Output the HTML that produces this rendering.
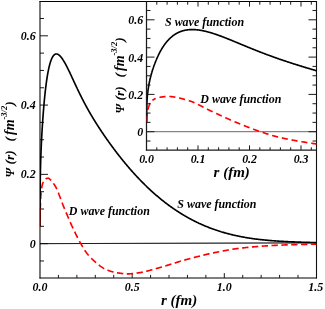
<!DOCTYPE html>
<html><head><meta charset="utf-8"><title>wave functions</title>
<style>
html,body{margin:0;padding:0;background:#fff;overflow:hidden;}
svg{display:block;will-change:transform;}
text{font-family:"Liberation Serif",serif;font-weight:bold;font-style:italic;fill:#000;}
.tk{font-size:13px;}
.lb{font-size:11.5px;}
</style></head><body>
<svg width="325" height="309" viewBox="0 0 325 309">
<rect width="325" height="309" fill="#fff"/>
<defs>
<clipPath id="cm"><rect x="40.0" y="1.5" width="276.5" height="276.4"/></clipPath>
<clipPath id="ci"><rect x="146.5" y="1.5" width="170.0" height="148.5"/></clipPath>
</defs>
<g clip-path="url(#cm)">
<line x1="40.0" y1="243.65" x2="316.5" y2="242.85" stroke="#000" stroke-width="0.65"/>
</g>
<path d="M40.0,260.97h4 M40.0,243.65h8 M40.0,226.33h4 M40.0,209.01h4 M40.0,191.69h4 M40.0,174.37h8 M40.0,157.05h4 M40.0,139.73h4 M40.0,122.41h4 M40.0,105.09h8 M40.0,87.77h4 M40.0,70.45h4 M40.0,53.13h4 M40.0,35.81h8 M40.0,18.49h4 M58.43,277.9v-3 M76.86,277.9v-3 M95.29,277.9v-3 M113.72,277.9v-3 M132.15,277.9v-4.8 M150.58,277.9v-3 M169.01,277.9v-3 M187.44,277.9v-3 M205.87,277.9v-3 M224.30,277.9v-4.8 M242.73,277.9v-3 M261.16,277.9v-3 M279.59,277.9v-3 M298.02,277.9v-3" stroke="#1a1a1a" stroke-width="1" fill="none"/>
<path d="M40.0,1.0V278.4" stroke="#000" stroke-width="1.05" fill="none"/>
<path d="M39.5,277.9H317.0" stroke="#000" stroke-width="1.05" fill="none"/>
<path d="M39.5,1.5H317.0" stroke="#000" stroke-width="1.1" fill="none"/>
<path d="M316.5,1.0V278.4" stroke="#111" stroke-width="1.1" fill="none"/>
<g clip-path="url(#cm)">
<line x1="40.0" y1="243.65" x2="316.5" y2="242.85" stroke="#000" stroke-width="0.65"/>
<path d="M40.02,226.33 L40.02,226.31 L40.02,225.75 L40.02,225.20 L40.02,224.66 L40.02,224.44 M40.05,220.62 L40.05,220.59 L40.05,220.11 L40.05,219.65 L40.06,219.19 L40.06,218.75 L40.07,218.30 L40.07,217.87 L40.07,217.44 L40.08,217.02 L40.08,216.60 L40.09,216.19 L40.10,215.79 L40.10,215.39 L40.11,215.00 L40.11,214.61 L40.12,214.22 L40.13,213.84 L40.13,213.70 M40.21,209.88 L40.22,209.56 L40.23,209.22 L40.24,208.89 L40.25,208.55 L40.26,208.21 L40.27,207.88 L40.29,207.54 L40.30,207.21 L40.31,206.88 L40.32,206.54 L40.33,206.21 L40.35,205.88 L40.36,205.54 L40.37,205.21 L40.39,204.87 L40.40,204.54 L40.41,204.20 L40.43,203.86 L40.44,203.52 L40.46,203.17 L40.47,202.95 M40.66,199.14 L40.67,198.99 L40.69,198.64 L40.71,198.29 L40.73,197.95 L40.75,197.60 L40.77,197.26 L40.79,196.92 L40.82,196.58 L40.84,196.24 L40.86,195.91 L40.88,195.58 L40.91,195.25 L40.93,194.92 L40.96,194.60 L40.98,194.28 L41.01,193.96 L41.03,193.65 L41.06,193.34 L41.09,193.03 L41.11,192.73 L41.14,192.43 L41.16,192.23 M41.62,188.44 L41.65,188.23 L41.68,188.00 L41.72,187.77 L41.76,187.54 L41.79,187.32 L41.83,187.10 L41.87,186.88 L41.91,186.67 L41.95,186.46 L41.99,186.26 L42.03,186.06 L42.07,185.87 L42.11,185.68 L42.15,185.50 L42.19,185.31 L42.24,185.13 L42.28,184.95 L42.32,184.77 L42.37,184.60 L42.41,184.42 L42.46,184.25 L42.50,184.08 L42.55,183.92 L42.60,183.75 L42.65,183.59 L42.69,183.44 L42.74,183.28 L42.79,183.13 L42.84,182.99 L42.89,182.84 L42.95,182.70 L43.00,182.57 L43.05,182.43 L43.10,182.31 L43.16,182.18 L43.21,182.06 L43.27,181.94 L43.32,181.83 L43.34,181.80 M45.66,179.00 L45.67,178.99 L45.75,178.93 L45.83,178.88 L45.91,178.83 L45.99,178.78 L46.07,178.73 L46.16,178.68 L46.24,178.64 L46.33,178.60 L46.41,178.57 L46.50,178.54 L46.58,178.51 L46.67,178.48 L46.76,178.45 L46.85,178.42 L46.94,178.39 L47.03,178.36 L47.12,178.34 L47.21,178.31 L47.30,178.29 L47.40,178.27 L47.49,178.25 L47.59,178.23 L47.68,178.21 L47.78,178.20 L47.88,178.19 L47.98,178.18 L48.08,178.18 L48.18,178.18 L48.28,178.20 L48.38,178.22 L48.48,178.25 L48.58,178.29 L48.69,178.34 L48.79,178.40 L48.90,178.46 L49.00,178.53 L49.11,178.61 L49.22,178.69 L49.33,178.77 L49.44,178.86 L49.55,178.96 L49.66,179.05 L49.77,179.15 L49.88,179.24 L50.00,179.34 L50.11,179.44 L50.23,179.53 L50.34,179.63 L50.46,179.73 L50.58,179.84 L50.70,179.95 L50.82,180.06 L50.94,180.18 L51.06,180.31 L51.18,180.43 M53.44,183.34 L53.54,183.49 L53.68,183.70 L53.82,183.91 L53.96,184.12 L54.10,184.34 L54.25,184.56 L54.39,184.79 L54.54,185.01 L54.68,185.24 L54.83,185.48 L54.98,185.72 L55.13,185.96 L55.28,186.20 L55.43,186.45 L55.58,186.70 L55.73,186.95 L55.89,187.22 L56.04,187.50 L56.20,187.79 L56.35,188.10 L56.51,188.42 L56.67,188.75 L56.83,189.09 L56.86,189.16 M58.31,192.64 L58.48,193.07 L58.66,193.52 L58.83,193.97 L59.00,194.42 L59.17,194.89 L59.35,195.35 L59.52,195.83 L59.70,196.30 L59.88,196.79 L60.06,197.27 L60.24,197.76 L60.42,198.25 L60.60,198.75 L60.71,199.05 M62.04,202.59 L62.10,202.75 L62.29,203.25 L62.48,203.74 L62.68,204.24 L62.87,204.73 L63.07,205.22 L63.27,205.71 L63.47,206.19 L63.66,206.67 L63.87,207.15 L64.07,207.62 L64.27,208.11 L64.47,208.59 L64.61,208.92 M66.06,212.40 L66.15,212.60 L66.36,213.11 L66.57,213.63 L66.79,214.15 L67.01,214.66 L67.23,215.19 L67.45,215.71 L67.67,216.23 L67.89,216.76 L68.11,217.28 L68.34,217.81 L68.56,218.34 L68.71,218.69 M70.21,222.14 L70.41,222.58 L70.64,223.11 L70.88,223.63 L71.12,224.16 L71.36,224.69 L71.60,225.21 L71.84,225.74 L72.09,226.26 L72.33,226.78 L72.58,227.31 L72.82,227.84 L73.05,228.34 M74.65,231.73 L74.84,232.12 L75.10,232.66 L75.36,233.20 L75.62,233.74 L75.88,234.28 L76.14,234.82 L76.41,235.36 L76.67,235.89 L76.94,236.43 L77.21,236.96 L77.47,237.49 L77.65,237.84 M79.39,241.15 L79.39,241.16 L79.67,241.67 L79.95,242.18 L80.24,242.68 L80.52,243.18 L80.80,243.68 L81.09,244.18 L81.38,244.67 L81.66,245.17 L81.95,245.67 L82.24,246.17 L82.54,246.67 L82.75,247.03 M84.70,250.20 L84.92,250.53 L85.23,250.99 L85.53,251.44 L85.84,251.89 L86.15,252.32 L86.46,252.75 L86.77,253.16 L87.08,253.57 L87.39,253.96 L87.71,254.35 L88.02,254.73 L88.34,255.10 L88.66,255.47 L88.72,255.55 M91.22,258.21 L91.26,258.25 L91.59,258.58 L91.92,258.91 L92.26,259.23 L92.59,259.55 L92.93,259.87 L93.27,260.18 L93.61,260.49 L93.95,260.81 L94.29,261.12 L94.64,261.43 L94.98,261.74 L95.33,262.04 L95.68,262.35 L96.03,262.65 L96.07,262.69 M98.86,264.98 L98.87,264.99 L99.24,265.27 L99.60,265.55 L99.97,265.82 L100.33,266.08 L100.70,266.35 L101.07,266.60 L101.44,266.86 L101.81,267.12 L102.19,267.37 L102.56,267.63 L102.94,267.88 L103.32,268.13 L103.70,268.37 L104.08,268.59 L104.22,268.67 M107.45,270.12 L107.58,270.17 L107.98,270.32 L108.38,270.47 L108.77,270.62 L109.18,270.77 L109.58,270.91 L109.98,271.05 L110.39,271.18 L110.79,271.31 L111.20,271.44 L111.61,271.56 L112.03,271.68 L112.44,271.80 L112.85,271.91 L113.27,272.02 L113.53,272.09 M116.96,272.79 L117.09,272.80 L117.52,272.87 L117.95,272.93 L118.39,272.99 L118.82,273.05 L119.26,273.11 L119.70,273.17 L120.14,273.23 L120.58,273.29 L121.03,273.35 L121.47,273.40 L121.92,273.46 L122.37,273.51 L122.82,273.56 L123.26,273.60 M126.75,273.83 L126.95,273.84 L127.42,273.85 L127.89,273.86 L128.36,273.86 L128.83,273.85 L129.30,273.83 L129.78,273.82 L130.25,273.79 L130.73,273.76 L131.21,273.72 L131.69,273.68 L132.18,273.64 L132.66,273.59 L133.08,273.55 M136.55,273.10 L136.60,273.09 L137.10,273.02 L137.60,272.95 L138.11,272.88 L138.61,272.81 L139.12,272.74 L139.63,272.66 L140.14,272.59 L140.65,272.51 L141.16,272.42 L141.68,272.33 L142.19,272.23 L142.71,272.12 L142.82,272.10 M146.24,271.31 L146.39,271.28 L146.92,271.14 L147.46,271.00 L147.99,270.86 L148.53,270.71 L149.07,270.57 L149.61,270.42 L150.15,270.27 L150.70,270.11 L151.24,269.96 L151.79,269.80 L152.34,269.65 L152.40,269.63 M155.78,268.67 L156.24,268.54 L156.80,268.39 L157.37,268.23 L157.93,268.08 L158.50,267.92 L159.07,267.76 L159.65,267.60 L160.22,267.44 L160.80,267.28 L161.38,267.11 L161.92,266.95 M165.29,265.94 L165.47,265.89 L166.06,265.71 L166.66,265.53 L167.26,265.34 L167.85,265.16 L168.45,264.97 L169.05,264.78 L169.66,264.59 L170.26,264.41 L170.87,264.22 L171.39,264.05 M174.75,263.00 L175.17,262.87 L175.79,262.68 L176.42,262.49 L177.04,262.29 L177.67,262.10 L178.30,261.91 L178.93,261.72 L179.56,261.53 L180.20,261.33 L180.83,261.14 L180.86,261.14 M184.24,260.15 L184.69,260.02 L185.34,259.84 L186.00,259.66 L186.65,259.48 L187.31,259.30 L187.96,259.12 L188.62,258.95 L189.28,258.77 L189.95,258.59 L190.39,258.48 M193.79,257.58 L193.97,257.53 L194.64,257.35 L195.32,257.17 L196.00,257.00 L196.69,256.82 L197.37,256.64 L198.06,256.47 L198.74,256.29 L199.44,256.12 L199.96,255.98 M203.37,255.14 L203.62,255.08 L204.32,254.91 L205.03,254.74 L205.74,254.58 L206.45,254.41 L207.16,254.24 L207.87,254.08 L208.59,253.92 L209.30,253.76 L209.57,253.70 M213.00,252.96 L213.65,252.83 L214.38,252.68 L215.12,252.53 L215.85,252.38 L216.59,252.24 L217.33,252.09 L218.07,251.94 L218.82,251.79 L219.24,251.71 M222.68,251.03 L223.32,250.91 L224.08,250.77 L224.84,250.62 L225.60,250.48 L226.37,250.34 L227.13,250.20 L227.90,250.06 L228.67,249.93 L228.93,249.88 M232.38,249.31 L232.55,249.28 L233.33,249.16 L234.12,249.04 L234.91,248.92 L235.69,248.80 L236.48,248.69 L237.28,248.58 L238.07,248.47 L238.67,248.40 M242.14,247.98 L242.89,247.90 L243.70,247.81 L244.51,247.73 L245.32,247.64 L246.14,247.55 L246.95,247.47 L247.77,247.39 L248.46,247.32 M251.94,246.99 L252.74,246.92 L253.57,246.84 L254.41,246.77 L255.25,246.70 L256.09,246.63 L256.93,246.56 L257.78,246.49 L258.26,246.45 M261.75,246.19 L262.04,246.17 L262.90,246.11 L263.76,246.05 L264.62,245.99 L265.49,245.93 L266.35,245.88 L267.22,245.82 L268.08,245.77 M271.57,245.58 L271.60,245.57 L272.48,245.53 L273.37,245.48 L274.25,245.43 L275.14,245.39 L276.03,245.35 L276.93,245.30 L277.82,245.26 L277.90,245.26 M281.39,245.10 L281.43,245.10 L282.33,245.06 L283.24,245.02 L284.15,244.98 L285.06,244.94 L285.98,244.91 L286.90,244.87 L287.73,244.84 M291.22,244.72 L291.52,244.71 L292.45,244.68 L293.38,244.66 L294.32,244.63 L295.25,244.60 L296.19,244.58 L297.14,244.55 L297.56,244.54 M301.06,244.46 L301.88,244.44 L302.83,244.42 L303.79,244.40 L304.75,244.38 L305.71,244.36 L306.68,244.35 L307.40,244.33 M310.89,244.27 L311.54,244.26 L312.51,244.25 L313.49,244.24 L314.48,244.23 L315.46,244.21 L316.45,244.20" fill="none" stroke="#f00" stroke-width="1.65"/>
<path d="M40.01,226.33 L40.01,226.11 L40.01,225.24 L40.01,224.35 L40.01,223.47 L40.02,222.57 L40.02,221.67 L40.02,220.77 L40.02,219.86 L40.02,218.94 L40.03,218.02 L40.03,217.10 L40.03,216.16 L40.03,215.23 L40.04,214.29 L40.04,213.35 L40.04,212.40 L40.05,211.45 L40.05,210.49 L40.05,209.53 L40.06,208.56 L40.06,207.56 L40.07,206.52 L40.07,205.45 L40.07,204.34 L40.08,203.22 L40.08,202.07 L40.09,200.92 L40.10,199.75 L40.10,198.58 L40.11,197.41 L40.11,196.25 L40.12,195.10 L40.13,193.96 L40.13,192.85 L40.14,191.75 L40.15,190.69 L40.15,189.66 L40.16,188.68 L40.17,187.73 L40.18,186.84 L40.19,186.00 L40.19,185.27 L40.20,184.56 L40.21,183.84 L40.22,183.12 L40.23,182.41 L40.24,181.69 L40.25,180.99 L40.26,180.28 L40.27,179.59 L40.29,178.89 L40.30,178.19 L40.31,177.50 L40.32,176.82 L40.33,176.13 L40.35,175.45 L40.36,174.77 L40.37,174.09 L40.39,173.41 L40.40,172.74 L40.41,172.07 L40.43,171.40 L40.44,170.73 L40.46,170.06 L40.47,169.39 L40.49,168.73 L40.51,168.07 L40.52,167.40 L40.54,166.74 L40.56,166.08 L40.57,165.43 L40.59,164.77 L40.61,164.11 L40.63,163.45 L40.65,162.80 L40.67,162.14 L40.69,161.48 L40.71,160.83 L40.73,160.17 L40.75,159.52 L40.77,158.86 L40.79,158.21 L40.82,157.55 L40.84,156.90 L40.86,156.24 L40.88,155.59 L40.91,154.93 L40.93,154.27 L40.96,153.62 L40.98,152.96 L41.01,152.30 L41.03,151.64 L41.06,150.98 L41.09,150.32 L41.11,149.66 L41.14,149.00 L41.17,148.33 L41.20,147.67 L41.23,147.00 L41.26,146.34 L41.29,145.67 L41.32,145.00 L41.35,144.33 L41.38,143.66 L41.41,142.99 L41.44,142.32 L41.48,141.65 L41.51,140.97 L41.54,140.30 L41.58,139.62 L41.61,138.94 L41.65,138.26 L41.68,137.58 L41.72,136.90 L41.76,136.22 L41.79,135.53 L41.83,134.85 L41.87,134.16 L41.91,133.47 L41.95,132.78 L41.99,132.09 L42.03,131.40 L42.07,130.70 L42.11,130.01 L42.15,129.31 L42.19,128.62 L42.24,127.92 L42.28,127.22 L42.32,126.52 L42.37,125.82 L42.41,125.12 L42.46,124.41 L42.50,123.71 L42.55,123.00 L42.60,122.30 L42.65,121.59 L42.69,120.88 L42.74,120.17 L42.79,119.46 L42.84,118.75 L42.89,118.04 L42.95,117.33 L43.00,116.62 L43.05,115.91 L43.10,115.20 L43.16,114.48 L43.21,113.77 L43.27,113.06 L43.32,112.34 L43.38,111.63 L43.43,110.92 L43.49,110.20 L43.55,109.49 L43.61,108.78 L43.67,108.06 L43.73,107.35 L43.79,106.64 L43.85,105.93 L43.91,105.22 L43.97,104.51 L44.04,103.80 L44.10,103.09 L44.16,102.38 L44.23,101.67 L44.29,100.97 L44.36,100.27 L44.43,99.56 L44.50,98.86 L44.56,98.16 L44.63,97.46 L44.70,96.77 L44.77,96.08 L44.84,95.38 L44.92,94.69 L44.99,94.01 L45.06,93.32 L45.13,92.64 L45.21,91.96 L45.28,91.28 L45.36,90.61 L45.44,89.94 L45.51,89.27 L45.59,88.61 L45.67,87.95 L45.75,87.29 L45.83,86.64 L45.91,85.99 L45.99,85.34 L46.07,84.70 L46.16,84.06 L46.24,83.43 L46.33,82.80 L46.41,82.18 L46.50,81.56 L46.58,80.94 L46.67,80.33 L46.76,79.73 L46.85,79.13 L46.94,78.53 L47.03,77.94 L47.12,77.36 L47.21,76.78 L47.30,76.20 L47.40,75.64 L47.49,75.08 L47.59,74.52 L47.68,73.97 L47.78,73.42 L47.88,72.89 L47.98,72.35 L48.08,71.83 L48.18,71.31 L48.28,70.79 L48.38,70.29 L48.48,69.79 L48.58,69.29 L48.69,68.81 L48.79,68.33 L48.90,67.86 L49.00,67.39 L49.11,66.93 L49.22,66.48 L49.33,66.03 L49.44,65.60 L49.55,65.17 L49.66,64.74 L49.77,64.33 L49.88,63.92 L50.00,63.52 L50.11,63.13 L50.23,62.74 L50.34,62.36 L50.46,61.99 L50.58,61.63 L50.70,61.28 L50.82,60.93 L50.94,60.59 L51.06,60.26 L51.18,59.94 L51.31,59.63 L51.43,59.32 L51.56,59.02 L51.68,58.73 L51.81,58.45 L51.94,58.18 L52.06,57.91 L52.19,57.66 L52.32,57.41 L52.46,57.17 L52.59,56.94 L52.72,56.72 L52.86,56.50 L52.99,56.30 L53.13,56.10 L53.26,55.91 L53.40,55.73 L53.54,55.56 L53.68,55.40 L53.82,55.24 L53.96,55.10 L54.10,54.96 L54.25,54.83 L54.39,54.71 L54.54,54.60 L54.68,54.50 L54.83,54.41 L54.98,54.32 L55.13,54.24 L55.28,54.18 L55.43,54.12 L55.58,54.07 L55.73,54.03 L55.89,54.00 L56.04,53.97 L56.20,53.96 L56.35,53.95 L56.51,53.95 L56.67,53.96 L56.83,53.98 L56.99,54.01 L57.15,54.05 L57.32,54.09 L57.48,54.15 L57.65,54.21 L57.81,54.28 L57.98,54.36 L58.15,54.45 L58.31,54.55 L58.48,54.65 L58.66,54.77 L58.83,54.89 L59.00,55.02 L59.17,55.16 L59.35,55.30 L59.52,55.46 L59.70,55.62 L59.88,55.79 L60.06,55.97 L60.24,56.16 L60.42,56.36 L60.60,56.56 L60.79,56.77 L60.97,56.99 L61.16,57.22 L61.34,57.45 L61.53,57.70 L61.72,57.95 L61.91,58.21 L62.10,58.47 L62.29,58.74 L62.48,59.02 L62.68,59.31 L62.87,59.61 L63.07,59.91 L63.27,60.22 L63.47,60.54 L63.66,60.86 L63.87,61.19 L64.07,61.53 L64.27,61.87 L64.47,62.22 L64.68,62.58 L64.88,62.95 L65.09,63.32 L65.30,63.70 L65.51,64.08 L65.72,64.47 L65.93,64.87 L66.15,65.27 L66.36,65.68 L66.57,66.09 L66.79,66.51 L67.01,66.94 L67.23,67.37 L67.45,67.80 L67.67,68.25 L67.89,68.69 L68.11,69.15 L68.34,69.60 L68.56,70.07 L68.79,70.53 L69.02,71.01 L69.25,71.48 L69.48,71.96 L69.71,72.45 L69.94,72.94 L70.17,73.44 L70.41,73.93 L70.64,74.44 L70.88,74.94 L71.12,75.45 L71.36,75.97 L71.60,76.49 L71.84,77.01 L72.09,77.53 L72.33,78.06 L72.58,78.59 L72.82,79.12 L73.07,79.66 L73.32,80.19 L73.57,80.74 L73.82,81.28 L74.07,81.82 L74.33,82.37 L74.58,82.92 L74.84,83.47 L75.10,84.03 L75.36,84.58 L75.62,85.14 L75.88,85.70 L76.14,86.26 L76.41,86.82 L76.67,87.38 L76.94,87.95 L77.21,88.51 L77.47,89.08 L77.75,89.64 L78.02,90.21 L78.29,90.78 L78.56,91.35 L78.84,91.92 L79.12,92.49 L79.39,93.06 L79.67,93.63 L79.95,94.20 L80.24,94.77 L80.52,95.34 L80.80,95.91 L81.09,96.49 L81.38,97.06 L81.66,97.63 L81.95,98.20 L82.24,98.78 L82.54,99.35 L82.83,99.92 L83.12,100.49 L83.42,101.06 L83.72,101.63 L84.02,102.20 L84.32,102.77 L84.62,103.34 L84.92,103.91 L85.23,104.48 L85.53,105.05 L85.84,105.62 L86.15,106.19 L86.46,106.76 L86.77,107.32 L87.08,107.89 L87.39,108.45 L87.71,109.02 L88.02,109.58 L88.34,110.15 L88.66,110.71 L88.98,111.28 L89.30,111.84 L89.62,112.40 L89.95,112.96 L90.27,113.52 L90.60,114.08 L90.93,114.65 L91.26,115.21 L91.59,115.76 L91.92,116.32 L92.26,116.88 L92.59,117.44 L92.93,118.00 L93.27,118.56 L93.61,119.11 L93.95,119.67 L94.29,120.23 L94.64,120.79 L94.98,121.34 L95.33,121.90 L95.68,122.46 L96.03,123.01 L96.38,123.57 L96.73,124.13 L97.08,124.68 L97.44,125.24 L97.79,125.79 L98.15,126.35 L98.51,126.91 L98.87,127.46 L99.24,128.02 L99.60,128.57 L99.97,129.13 L100.33,129.69 L100.70,130.24 L101.07,130.80 L101.44,131.36 L101.81,131.91 L102.19,132.47 L102.56,133.02 L102.94,133.58 L103.32,134.14 L103.70,134.70 L104.08,135.25 L104.46,135.81 L104.85,136.37 L105.23,136.92 L105.62,137.48 L106.01,138.04 L106.40,138.60 L106.79,139.16 L107.19,139.71 L107.58,140.27 L107.98,140.83 L108.38,141.39 L108.77,141.95 L109.18,142.51 L109.58,143.07 L109.98,143.63 L110.39,144.18 L110.79,144.74 L111.20,145.30 L111.61,145.86 L112.03,146.42 L112.44,146.98 L112.85,147.54 L113.27,148.10 L113.69,148.66 L114.11,149.22 L114.53,149.78 L114.95,150.34 L115.37,150.90 L115.80,151.46 L116.23,152.02 L116.66,152.58 L117.09,153.14 L117.52,153.70 L117.95,154.26 L118.39,154.82 L118.82,155.38 L119.26,155.93 L119.70,156.49 L120.14,157.05 L120.58,157.61 L121.03,158.17 L121.47,158.73 L121.92,159.28 L122.37,159.84 L122.82,160.40 L123.27,160.95 L123.73,161.51 L124.18,162.06 L124.64,162.62 L125.10,163.17 L125.56,163.73 L126.02,164.28 L126.49,164.84 L126.95,165.39 L127.42,165.94 L127.89,166.49 L128.36,167.04 L128.83,167.59 L129.30,168.14 L129.78,168.69 L130.25,169.24 L130.73,169.79 L131.21,170.33 L131.69,170.88 L132.18,171.42 L132.66,171.97 L133.15,172.51 L133.64,173.05 L134.13,173.60 L134.62,174.14 L135.11,174.68 L135.61,175.22 L136.10,175.75 L136.60,176.29 L137.10,176.83 L137.60,177.36 L138.11,177.90 L138.61,178.43 L139.12,178.96 L139.63,179.49 L140.14,180.02 L140.65,180.55 L141.16,181.07 L141.68,181.60 L142.19,182.13 L142.71,182.65 L143.23,183.17 L143.75,183.69 L144.28,184.21 L144.80,184.73 L145.33,185.25 L145.86,185.76 L146.39,186.28 L146.92,186.79 L147.46,187.30 L147.99,187.81 L148.53,188.32 L149.07,188.82 L149.61,189.33 L150.15,189.83 L150.70,190.33 L151.24,190.83 L151.79,191.33 L152.34,191.83 L152.89,192.33 L153.45,192.82 L154.00,193.31 L154.56,193.80 L155.12,194.29 L155.68,194.78 L156.24,195.27 L156.80,195.75 L157.37,196.23 L157.93,196.71 L158.50,197.19 L159.07,197.67 L159.65,198.14 L160.22,198.61 L160.80,199.08 L161.38,199.55 L161.96,200.02 L162.54,200.48 L163.12,200.95 L163.71,201.41 L164.29,201.87 L164.88,202.32 L165.47,202.78 L166.06,203.23 L166.66,203.68 L167.26,204.13 L167.85,204.58 L168.45,205.02 L169.05,205.46 L169.66,205.90 L170.26,206.34 L170.87,206.78 L171.48,207.21 L172.09,207.64 L172.70,208.07 L173.32,208.50 L173.93,208.92 L174.55,209.34 L175.17,209.76 L175.79,210.18 L176.42,210.59 L177.04,211.01 L177.67,211.42 L178.30,211.82 L178.93,212.23 L179.56,212.63 L180.20,213.03 L180.83,213.43 L181.47,213.82 L182.11,214.22 L182.76,214.61 L183.40,214.99 L184.05,215.38 L184.69,215.76 L185.34,216.14 L186.00,216.52 L186.65,216.89 L187.31,217.26 L187.96,217.63 L188.62,218.00 L189.28,218.36 L189.95,218.72 L190.61,219.08 L191.28,219.44 L191.95,219.79 L192.62,220.14 L193.29,220.49 L193.97,220.83 L194.64,221.17 L195.32,221.51 L196.00,221.85 L196.69,222.18 L197.37,222.51 L198.06,222.83 L198.74,223.16 L199.44,223.48 L200.13,223.80 L200.82,224.11 L201.52,224.43 L202.22,224.74 L202.92,225.04 L203.62,225.35 L204.32,225.65 L205.03,225.94 L205.74,226.24 L206.45,226.53 L207.16,226.82 L207.87,227.10 L208.59,227.39 L209.30,227.67 L210.02,227.94 L210.75,228.22 L211.47,228.49 L212.20,228.75 L212.92,229.02 L213.65,229.28 L214.38,229.54 L215.12,229.79 L215.85,230.04 L216.59,230.29 L217.33,230.54 L218.07,230.78 L218.82,231.02 L219.56,231.26 L220.31,231.49 L221.06,231.73 L221.81,231.95 L222.57,232.18 L223.32,232.40 L224.08,232.62 L224.84,232.84 L225.60,233.05 L226.37,233.26 L227.13,233.47 L227.90,233.67 L228.67,233.87 L229.44,234.07 L230.22,234.27 L230.99,234.46 L231.77,234.65 L232.55,234.84 L233.33,235.02 L234.12,235.20 L234.91,235.38 L235.69,235.55 L236.48,235.73 L237.28,235.90 L238.07,236.06 L238.87,236.23 L239.67,236.39 L240.47,236.55 L241.27,236.70 L242.08,236.85 L242.89,237.00 L243.70,237.15 L244.51,237.30 L245.32,237.44 L246.14,237.58 L246.95,237.72 L247.77,237.85 L248.60,237.98 L249.42,238.11 L250.25,238.24 L251.08,238.36 L251.91,238.48 L252.74,238.60 L253.57,238.72 L254.41,238.83 L255.25,238.95 L256.09,239.06 L256.93,239.16 L257.78,239.27 L258.63,239.37 L259.48,239.47 L260.33,239.57 L261.18,239.66 L262.04,239.76 L262.90,239.85 L263.76,239.94 L264.62,240.02 L265.49,240.11 L266.35,240.19 L267.22,240.27 L268.09,240.35 L268.97,240.43 L269.84,240.50 L270.72,240.58 L271.60,240.65 L272.48,240.72 L273.37,240.79 L274.25,240.85 L275.14,240.92 L276.03,240.98 L276.93,241.04 L277.82,241.10 L278.72,241.16 L279.62,241.21 L280.52,241.27 L281.43,241.32 L282.33,241.37 L283.24,241.42 L284.15,241.47 L285.06,241.52 L285.98,241.56 L286.90,241.61 L287.82,241.65 L288.74,241.70 L289.66,241.74 L290.59,241.78 L291.52,241.82 L292.45,241.86 L293.38,241.89 L294.32,241.93 L295.25,241.97 L296.19,242.00 L297.14,242.04 L298.08,242.07 L299.03,242.10 L299.97,242.13 L300.93,242.17 L301.88,242.20 L302.83,242.23 L303.79,242.26 L304.75,242.29 L305.71,242.32 L306.68,242.35 L307.65,242.38 L308.61,242.40 L309.59,242.43 L310.56,242.46 L311.54,242.49 L312.51,242.52 L313.49,242.55 L314.48,242.58 L315.46,242.61 L316.45,242.64" fill="none" stroke="#000" stroke-width="1.65" stroke-linejoin="round"/>
</g>
<g clip-path="url(#ci)">
<line x1="146.5" y1="131.7" x2="316.5" y2="131.7" stroke="#000" stroke-width="0.6"/>
<path d="M159.47,97.38 L159.55,97.37 L159.67,97.35 L159.78,97.32 L159.90,97.30 L160.02,97.28 L160.14,97.26 L160.26,97.23 L160.38,97.21 L160.50,97.19 L160.62,97.17 L160.74,97.15 L160.86,97.12 L160.99,97.10 L161.11,97.08 L161.24,97.06 L161.36,97.04 L161.49,97.02 L161.62,97.00 L161.74,96.98 L161.87,96.96 L162.00,96.94 L162.13,96.92 L162.26,96.90 L162.39,96.88 L162.53,96.86 L162.66,96.84 L162.79,96.83 L162.93,96.81 L163.06,96.79 L163.20,96.78 L163.33,96.76 L163.47,96.75 L163.61,96.73 L163.74,96.72 L163.88,96.71 L164.02,96.69 L164.16,96.68 L164.31,96.67 L164.45,96.66 L164.59,96.65 L164.73,96.64 L164.88,96.63 L165.02,96.62 L165.17,96.61 L165.32,96.60 L165.46,96.59 L165.51,96.59 M169.35,96.45 L169.39,96.45 L169.56,96.46 L169.73,96.46 L169.90,96.47 L170.07,96.48 L170.24,96.49 L170.41,96.51 L170.58,96.52 L170.75,96.54 L170.93,96.55 L171.10,96.57 L171.28,96.59 L171.45,96.61 L171.63,96.64 L171.81,96.66 L171.98,96.69 L172.16,96.71 L172.34,96.74 L172.53,96.77 L172.71,96.79 L172.89,96.82 L173.07,96.85 L173.26,96.88 L173.44,96.91 L173.63,96.94 L173.81,96.97 L174.00,97.00 L174.19,97.04 L174.38,97.07 L174.57,97.10 L174.76,97.13 L174.95,97.16 L175.15,97.19 L175.34,97.22 L175.39,97.23 M179.17,97.98 L179.18,97.98 L179.39,98.03 L179.60,98.08 L179.81,98.13 L180.03,98.18 L180.24,98.23 L180.45,98.28 L180.67,98.33 L180.89,98.39 L181.11,98.44 L181.32,98.50 L181.54,98.55 L181.76,98.61 L181.99,98.67 L182.21,98.73 L182.43,98.79 L182.66,98.85 L182.88,98.91 L183.11,98.97 L183.33,99.03 L183.56,99.09 L183.79,99.16 L184.02,99.22 L184.25,99.29 L184.48,99.35 L184.71,99.42 L184.95,99.49 L185.09,99.53 M188.79,100.65 L188.81,100.65 L189.05,100.73 L189.31,100.81 L189.56,100.89 L189.81,100.97 L190.06,101.05 L190.32,101.13 L190.57,101.21 L190.83,101.30 L191.08,101.38 L191.34,101.47 L191.60,101.57 L191.86,101.66 L192.12,101.76 L192.38,101.86 L192.64,101.97 L192.91,102.07 L193.17,102.18 L193.44,102.29 L193.70,102.40 L193.97,102.51 L194.24,102.63 L194.51,102.75 L194.55,102.77 M198.08,104.43 L198.10,104.45 L198.39,104.59 L198.67,104.73 L198.96,104.87 L199.24,105.02 L199.53,105.17 L199.82,105.31 L200.11,105.46 L200.40,105.61 L200.69,105.76 L200.99,105.91 L201.28,106.07 L201.57,106.22 L201.87,106.37 L202.17,106.53 L202.46,106.68 L202.76,106.84 L203.06,107.00 L203.36,107.15 L203.58,107.27 M207.06,109.07 L207.06,109.07 L207.37,109.23 L207.69,109.39 L208.00,109.55 L208.32,109.71 L208.64,109.87 L208.96,110.03 L209.28,110.19 L209.60,110.35 L209.93,110.51 L210.25,110.67 L210.57,110.82 L210.90,110.98 L211.23,111.14 L211.56,111.29 L211.89,111.45 L212.22,111.60 L212.55,111.75 L212.61,111.78 M216.15,113.41 L216.27,113.46 L216.61,113.62 L216.96,113.78 L217.31,113.94 L217.66,114.10 L218.00,114.26 L218.35,114.43 L218.71,114.59 L219.06,114.75 L219.41,114.91 L219.77,115.08 L220.12,115.24 L220.48,115.41 L220.84,115.57 L221.20,115.74 L221.56,115.90 L221.76,116.00 M225.30,117.62 L225.60,117.75 L225.97,117.92 L226.35,118.09 L226.72,118.26 L227.10,118.43 L227.48,118.60 L227.86,118.77 L228.24,118.94 L228.62,119.11 L229.01,119.28 L229.39,119.45 L229.78,119.62 L230.16,119.79 L230.55,119.96 L230.94,120.12 M234.52,121.65 L234.90,121.81 L235.30,121.98 L235.70,122.15 L236.11,122.32 L236.51,122.48 L236.92,122.65 L237.33,122.82 L237.74,122.99 L238.15,123.16 L238.56,123.33 L238.97,123.50 L239.39,123.67 L239.80,123.84 L240.21,124.01 M243.81,125.48 L244.02,125.56 L244.45,125.73 L244.88,125.91 L245.31,126.08 L245.74,126.25 L246.18,126.42 L246.61,126.60 L247.05,126.77 L247.48,126.94 L247.92,127.11 L248.36,127.29 L248.80,127.46 L249.25,127.63 L249.53,127.74 M253.16,129.12 L253.28,129.16 L253.74,129.33 L254.19,129.50 L254.65,129.66 L255.11,129.83 L255.57,130.00 L256.03,130.16 L256.49,130.33 L256.95,130.49 L257.42,130.65 L257.88,130.82 L258.35,130.98 L258.82,131.14 L258.95,131.18 M262.62,132.42 L263.09,132.58 L263.58,132.74 L264.06,132.90 L264.54,133.06 L265.03,133.21 L265.51,133.37 L266.00,133.53 L266.49,133.69 L266.98,133.85 L267.47,134.01 L267.97,134.16 L268.45,134.32 M272.15,135.44 L272.46,135.53 L272.97,135.68 L273.48,135.82 L273.98,135.97 L274.49,136.11 L275.01,136.25 L275.52,136.39 L276.03,136.52 L276.55,136.66 L277.06,136.79 L277.58,136.92 L278.06,137.04 M281.82,137.92 L282.31,138.03 L282.84,138.15 L283.37,138.26 L283.90,138.38 L284.44,138.49 L284.98,138.60 L285.51,138.72 L286.05,138.83 L286.59,138.94 L287.14,139.05 L287.68,139.16 L287.79,139.18 M291.58,139.91 L292.08,140.00 L292.64,140.11 L293.19,140.21 L293.75,140.31 L294.31,140.41 L294.87,140.51 L295.44,140.62 L296.00,140.72 L296.57,140.82 L297.13,140.92 L297.58,140.99 M301.38,141.65 L301.72,141.71 L302.30,141.80 L302.88,141.90 L303.46,142.00 L304.05,142.10 L304.63,142.19 L305.22,142.29 L305.81,142.38 L306.40,142.48 L306.99,142.57 L307.39,142.64 M311.20,143.22 L311.77,143.30 L312.37,143.39 L312.98,143.48 L313.58,143.57 L314.19,143.65 L314.80,143.74 L315.41,143.82 L316.02,143.91 L316.64,143.99 L317.23,144.07 M321.05,144.57 L321.60,144.65 M146.56,121.72 L146.56,121.55 L146.57,121.38 L146.57,121.21 L146.58,121.04 L146.58,120.87 L146.58,120.70 L146.59,120.53 L146.59,120.37 L146.60,120.21 L146.60,120.05 L146.61,119.89 L146.61,119.73 L146.62,119.57 L146.62,119.42 L146.63,119.27 L146.63,119.11 L146.64,118.96 L146.65,118.81 L146.65,118.67 L146.66,118.52 L146.67,118.38 L146.67,118.24 L146.68,118.10 L146.69,117.96 L146.70,117.82 L146.70,117.68 L146.71,117.54 L146.72,117.41 L146.73,117.27 L146.74,117.14 L146.74,117.01 L146.75,116.88 L146.76,116.75 L146.77,116.62 L146.78,116.49 L146.79,116.37 L146.80,116.24 L146.81,116.12 L146.82,115.99 L146.83,115.87 L146.84,115.75 L146.85,115.63 L146.86,115.51 L146.88,115.39 L146.89,115.27 L146.90,115.15 L146.91,115.03 L146.92,114.92 L146.94,114.80 L146.95,114.68 L146.96,114.57 L146.98,114.46 L146.99,114.34 L147.00,114.23 L147.02,114.12 L147.03,114.01 L147.05,113.89 L147.06,113.78 L147.08,113.67 L147.09,113.56 L147.11,113.45 L147.12,113.34 L147.14,113.23 L147.15,113.13 L147.17,113.02 M147.81,109.79 L147.84,109.68 L147.86,109.56 L147.89,109.45 L147.92,109.34 L147.94,109.23 L147.97,109.12 L148.00,109.01 L148.03,108.89 L148.06,108.78 L148.09,108.67 L148.12,108.56 L148.15,108.45 L148.18,108.33 L148.21,108.22 L148.24,108.11 L148.27,108.00 L148.30,107.89 L148.33,107.77 L148.37,107.66 L148.40,107.55 L148.43,107.44 L148.47,107.33 L148.50,107.22 L148.53,107.11 L148.57,107.00 L148.60,106.89 L148.64,106.78 L148.68,106.67 L148.71,106.56 L148.75,106.45 L148.79,106.34 L148.82,106.23 L148.86,106.13 L148.90,106.02 L148.94,105.91 L148.98,105.81 L149.02,105.70 L149.06,105.59 L149.10,105.49 L149.14,105.39 L149.18,105.28 L149.22,105.18 L149.26,105.08 L149.30,104.98 L149.35,104.88 L149.39,104.78 L149.43,104.68 L149.48,104.58 L149.52,104.48 L149.57,104.38 L149.61,104.29 L149.66,104.19 L149.71,104.10 L149.75,104.00 L149.80,103.91 L149.85,103.82 L149.90,103.73 L149.94,103.64 L149.99,103.55 L150.04,103.46 L150.09,103.37 L150.14,103.29 L150.19,103.20 M152.41,100.48 L152.48,100.42 L152.55,100.36 L152.62,100.30 L152.69,100.24 L152.76,100.18 L152.83,100.12 L152.90,100.07 L152.98,100.01 L153.05,99.95 L153.13,99.90 L153.20,99.84 L153.28,99.79 L153.35,99.73 L153.43,99.68 L153.51,99.62 L153.58,99.57 L153.66,99.52 L153.74,99.47 L153.82,99.41 L153.90,99.36 L153.98,99.31 L154.06,99.26 L154.14,99.21 L154.22,99.17 L154.31,99.12 L154.39,99.07 L154.47,99.02 L154.56,98.98 L154.64,98.93 L154.73,98.89 L154.81,98.84 L154.90,98.80 L154.99,98.76 L155.08,98.72 L155.16,98.68 L155.25,98.64 L155.34,98.60 L155.43,98.56 L155.52,98.52 L155.62,98.48 L155.71,98.45" fill="none" stroke="#f00" stroke-width="1.65"/>
<path d="M146.53,122.37 L146.53,122.26 L146.53,121.97 L146.53,121.69 L146.53,121.41 L146.54,121.13 L146.54,120.84 L146.54,120.56 L146.54,120.27 L146.55,119.98 L146.55,119.69 L146.55,119.40 L146.56,119.11 L146.56,118.82 L146.56,118.52 L146.57,118.23 L146.57,117.94 L146.58,117.64 L146.58,117.34 L146.58,117.05 L146.59,116.75 L146.59,116.45 L146.60,116.15 L146.60,115.85 L146.61,115.54 L146.61,115.24 L146.62,114.94 L146.62,114.63 L146.63,114.33 L146.63,114.02 L146.64,113.71 L146.65,113.41 L146.65,113.10 L146.66,112.79 L146.67,112.47 L146.67,112.14 L146.68,111.81 L146.69,111.47 L146.70,111.12 L146.70,110.77 L146.71,110.41 L146.72,110.05 L146.73,109.69 L146.74,109.32 L146.74,108.95 L146.75,108.58 L146.76,108.21 L146.77,107.83 L146.78,107.46 L146.79,107.08 L146.80,106.71 L146.81,106.34 L146.82,105.97 L146.83,105.60 L146.84,105.23 L146.85,104.87 L146.86,104.51 L146.88,104.16 L146.89,103.81 L146.90,103.47 L146.91,103.13 L146.92,102.80 L146.94,102.48 L146.95,102.16 L146.96,101.85 L146.98,101.56 L146.99,101.27 L147.00,100.99 L147.02,100.72 L147.03,100.48 L147.05,100.25 L147.06,100.02 L147.08,99.79 L147.09,99.56 L147.11,99.33 L147.12,99.10 L147.14,98.87 L147.15,98.64 L147.17,98.42 L147.19,98.19 L147.21,97.96 L147.22,97.74 L147.24,97.51 L147.26,97.29 L147.28,97.07 L147.30,96.84 L147.32,96.62 L147.33,96.40 L147.35,96.18 L147.37,95.96 L147.39,95.74 L147.41,95.52 L147.44,95.30 L147.46,95.08 L147.48,94.86 L147.50,94.64 L147.52,94.42 L147.54,94.21 L147.57,93.99 L147.59,93.78 L147.61,93.56 L147.64,93.34 L147.66,93.13 L147.68,92.91 L147.71,92.70 L147.73,92.49 L147.76,92.27 L147.78,92.06 L147.81,91.84 L147.84,91.63 L147.86,91.42 L147.89,91.21 L147.92,90.99 L147.94,90.78 L147.97,90.57 L148.00,90.36 L148.03,90.15 L148.06,89.94 L148.09,89.73 L148.12,89.51 L148.15,89.30 L148.18,89.09 L148.21,88.88 L148.24,88.67 L148.27,88.46 L148.30,88.25 L148.33,88.04 L148.37,87.83 L148.40,87.62 L148.43,87.41 L148.47,87.20 L148.50,86.99 L148.53,86.78 L148.57,86.57 L148.60,86.36 L148.64,86.15 L148.68,85.94 L148.71,85.73 L148.75,85.52 L148.79,85.31 L148.82,85.10 L148.86,84.89 L148.90,84.68 L148.94,84.47 L148.98,84.26 L149.02,84.05 L149.06,83.84 L149.10,83.63 L149.14,83.42 L149.18,83.21 L149.22,83.00 L149.26,82.79 L149.30,82.58 L149.35,82.37 L149.39,82.16 L149.43,81.95 L149.48,81.73 L149.52,81.52 L149.57,81.31 L149.61,81.10 L149.66,80.89 L149.71,80.67 L149.75,80.46 L149.80,80.25 L149.85,80.04 L149.90,79.82 L149.94,79.61 L149.99,79.40 L150.04,79.18 L150.09,78.97 L150.14,78.76 L150.19,78.54 L150.24,78.33 L150.30,78.11 L150.35,77.90 L150.40,77.69 L150.45,77.47 L150.51,77.25 L150.56,77.04 L150.62,76.82 L150.67,76.61 L150.73,76.39 L150.78,76.18 L150.84,75.96 L150.89,75.74 L150.95,75.52 L151.01,75.31 L151.07,75.09 L151.13,74.87 L151.19,74.65 L151.25,74.44 L151.31,74.22 L151.37,74.00 L151.43,73.78 L151.49,73.56 L151.55,73.34 L151.61,73.12 L151.68,72.90 L151.74,72.68 L151.81,72.46 L151.87,72.24 L151.94,72.02 L152.00,71.80 L152.07,71.58 L152.14,71.35 L152.20,71.13 L152.27,70.91 L152.34,70.69 L152.41,70.47 L152.48,70.24 L152.55,70.02 L152.62,69.80 L152.69,69.57 L152.76,69.35 L152.83,69.13 L152.90,68.90 L152.98,68.68 L153.05,68.45 L153.13,68.23 L153.20,68.00 L153.28,67.78 L153.35,67.55 L153.43,67.33 L153.51,67.10 L153.58,66.88 L153.66,66.65 L153.74,66.42 L153.82,66.20 L153.90,65.97 L153.98,65.74 L154.06,65.52 L154.14,65.29 L154.22,65.06 L154.31,64.84 L154.39,64.61 L154.47,64.38 L154.56,64.15 L154.64,63.93 L154.73,63.70 L154.81,63.47 L154.90,63.24 L154.99,63.01 L155.08,62.79 L155.16,62.56 L155.25,62.33 L155.34,62.10 L155.43,61.87 L155.52,61.65 L155.62,61.42 L155.71,61.19 L155.80,60.96 L155.89,60.73 L155.99,60.50 L156.08,60.27 L156.18,60.05 L156.27,59.82 L156.37,59.59 L156.47,59.36 L156.56,59.13 L156.66,58.90 L156.76,58.67 L156.86,58.45 L156.96,58.22 L157.06,57.99 L157.16,57.76 L157.26,57.53 L157.36,57.31 L157.47,57.08 L157.57,56.85 L157.68,56.62 L157.78,56.40 L157.89,56.17 L157.99,55.94 L158.10,55.72 L158.21,55.49 L158.32,55.27 L158.42,55.04 L158.53,54.81 L158.64,54.59 L158.76,54.36 L158.87,54.14 L158.98,53.91 L159.09,53.69 L159.21,53.47 L159.32,53.24 L159.43,53.02 L159.55,52.80 L159.67,52.57 L159.78,52.35 L159.90,52.13 L160.02,51.91 L160.14,51.69 L160.26,51.47 L160.38,51.25 L160.50,51.03 L160.62,50.81 L160.74,50.59 L160.86,50.37 L160.99,50.15 L161.11,49.93 L161.24,49.72 L161.36,49.50 L161.49,49.29 L161.62,49.07 L161.74,48.86 L161.87,48.64 L162.00,48.43 L162.13,48.22 L162.26,48.01 L162.39,47.80 L162.53,47.58 L162.66,47.37 L162.79,47.17 L162.93,46.96 L163.06,46.75 L163.20,46.54 L163.33,46.34 L163.47,46.13 L163.61,45.93 L163.74,45.72 L163.88,45.52 L164.02,45.32 L164.16,45.12 L164.31,44.92 L164.45,44.72 L164.59,44.52 L164.73,44.32 L164.88,44.13 L165.02,43.93 L165.17,43.73 L165.32,43.54 L165.46,43.35 L165.61,43.16 L165.76,42.96 L165.91,42.77 L166.06,42.59 L166.21,42.40 L166.36,42.21 L166.52,42.02 L166.67,41.84 L166.82,41.66 L166.98,41.47 L167.13,41.29 L167.29,41.11 L167.45,40.93 L167.60,40.75 L167.76,40.57 L167.92,40.40 L168.08,40.22 L168.24,40.05 L168.41,39.88 L168.57,39.71 L168.73,39.53 L168.90,39.37 L169.06,39.20 L169.23,39.03 L169.39,38.86 L169.56,38.70 L169.73,38.54 L169.90,38.38 L170.07,38.21 L170.24,38.06 L170.41,37.90 L170.58,37.74 L170.75,37.58 L170.93,37.43 L171.10,37.28 L171.28,37.13 L171.45,36.98 L171.63,36.83 L171.81,36.68 L171.98,36.53 L172.16,36.39 L172.34,36.24 L172.53,36.10 L172.71,35.96 L172.89,35.82 L173.07,35.68 L173.26,35.55 L173.44,35.41 L173.63,35.28 L173.81,35.14 L174.00,35.01 L174.19,34.88 L174.38,34.76 L174.57,34.63 L174.76,34.50 L174.95,34.38 L175.15,34.26 L175.34,34.14 L175.53,34.02 L175.73,33.90 L175.92,33.78 L176.12,33.67 L176.32,33.55 L176.52,33.44 L176.72,33.33 L176.92,33.22 L177.12,33.12 L177.32,33.01 L177.52,32.91 L177.73,32.80 L177.93,32.70 L178.14,32.60 L178.34,32.50 L178.55,32.41 L178.76,32.31 L178.97,32.22 L179.18,32.13 L179.39,32.04 L179.60,31.95 L179.81,31.86 L180.03,31.77 L180.24,31.69 L180.45,31.61 L180.67,31.53 L180.89,31.45 L181.11,31.37 L181.32,31.29 L181.54,31.22 L181.76,31.15 L181.99,31.08 L182.21,31.01 L182.43,30.94 L182.66,30.87 L182.88,30.81 L183.11,30.74 L183.33,30.68 L183.56,30.62 L183.79,30.56 L184.02,30.51 L184.25,30.45 L184.48,30.40 L184.71,30.35 L184.95,30.30 L185.18,30.25 L185.42,30.20 L185.65,30.16 L185.89,30.11 L186.13,30.07 L186.37,30.03 L186.61,29.99 L186.85,29.96 L187.09,29.92 L187.33,29.89 L187.57,29.86 L187.82,29.83 L188.06,29.80 L188.31,29.77 L188.56,29.75 L188.81,29.72 L189.05,29.70 L189.31,29.68 L189.56,29.66 L189.81,29.64 L190.06,29.63 L190.32,29.62 L190.57,29.60 L190.83,29.59 L191.08,29.58 L191.34,29.58 L191.60,29.57 L191.86,29.57 L192.12,29.57 L192.38,29.57 L192.64,29.57 L192.91,29.57 L193.17,29.58 L193.44,29.58 L193.70,29.59 L193.97,29.60 L194.24,29.61 L194.51,29.62 L194.78,29.64 L195.05,29.65 L195.32,29.67 L195.60,29.69 L195.87,29.71 L196.15,29.74 L196.42,29.76 L196.70,29.79 L196.98,29.81 L197.26,29.84 L197.54,29.87 L197.82,29.91 L198.10,29.94 L198.39,29.97 L198.67,30.01 L198.96,30.05 L199.24,30.09 L199.53,30.13 L199.82,30.18 L200.11,30.22 L200.40,30.27 L200.69,30.32 L200.99,30.37 L201.28,30.42 L201.57,30.47 L201.87,30.52 L202.17,30.58 L202.46,30.64 L202.76,30.70 L203.06,30.76 L203.36,30.82 L203.67,30.88 L203.97,30.95 L204.27,31.02 L204.58,31.08 L204.88,31.15 L205.19,31.23 L205.50,31.30 L205.81,31.37 L206.12,31.45 L206.43,31.53 L206.74,31.60 L207.06,31.68 L207.37,31.77 L207.69,31.85 L208.00,31.93 L208.32,32.02 L208.64,32.11 L208.96,32.19 L209.28,32.28 L209.60,32.38 L209.93,32.47 L210.25,32.56 L210.57,32.66 L210.90,32.76 L211.23,32.85 L211.56,32.95 L211.89,33.06 L212.22,33.16 L212.55,33.26 L212.88,33.37 L213.22,33.47 L213.55,33.58 L213.89,33.69 L214.22,33.80 L214.56,33.91 L214.90,34.03 L215.24,34.14 L215.58,34.26 L215.93,34.37 L216.27,34.49 L216.61,34.61 L216.96,34.73 L217.31,34.85 L217.66,34.97 L218.00,35.10 L218.35,35.22 L218.71,35.35 L219.06,35.48 L219.41,35.61 L219.77,35.74 L220.12,35.87 L220.48,36.00 L220.84,36.13 L221.20,36.27 L221.56,36.40 L221.92,36.54 L222.28,36.68 L222.65,36.81 L223.01,36.95 L223.38,37.10 L223.74,37.24 L224.11,37.38 L224.48,37.52 L224.85,37.67 L225.23,37.81 L225.60,37.96 L225.97,38.11 L226.35,38.26 L226.72,38.41 L227.10,38.56 L227.48,38.71 L227.86,38.86 L228.24,39.01 L228.62,39.17 L229.01,39.32 L229.39,39.48 L229.78,39.63 L230.16,39.79 L230.55,39.95 L230.94,40.11 L231.33,40.27 L231.72,40.43 L232.12,40.59 L232.51,40.75 L232.90,40.92 L233.30,41.08 L233.70,41.24 L234.10,41.41 L234.50,41.57 L234.90,41.74 L235.30,41.91 L235.70,42.07 L236.11,42.24 L236.51,42.41 L236.92,42.58 L237.33,42.75 L237.74,42.92 L238.15,43.09 L238.56,43.26 L238.97,43.43 L239.39,43.61 L239.80,43.78 L240.22,43.95 L240.64,44.12 L241.05,44.30 L241.47,44.47 L241.90,44.65 L242.32,44.82 L242.74,45.00 L243.17,45.18 L243.59,45.35 L244.02,45.53 L244.45,45.71 L244.88,45.88 L245.31,46.06 L245.74,46.24 L246.18,46.42 L246.61,46.60 L247.05,46.78 L247.48,46.96 L247.92,47.14 L248.36,47.32 L248.80,47.50 L249.25,47.68 L249.69,47.86 L250.13,48.04 L250.58,48.22 L251.03,48.40 L251.47,48.58 L251.92,48.76 L252.38,48.94 L252.83,49.13 L253.28,49.31 L253.74,49.49 L254.19,49.67 L254.65,49.86 L255.11,50.04 L255.57,50.22 L256.03,50.40 L256.49,50.59 L256.95,50.77 L257.42,50.95 L257.88,51.13 L258.35,51.32 L258.82,51.50 L259.29,51.68 L259.76,51.87 L260.23,52.05 L260.71,52.23 L261.18,52.42 L261.66,52.60 L262.14,52.78 L262.61,52.97 L263.09,53.15 L263.58,53.33 L264.06,53.52 L264.54,53.70 L265.03,53.88 L265.51,54.07 L266.00,54.25 L266.49,54.43 L266.98,54.61 L267.47,54.80 L267.97,54.98 L268.46,55.16 L268.96,55.35 L269.45,55.53 L269.95,55.71 L270.45,55.89 L270.95,56.08 L271.45,56.26 L271.96,56.44 L272.46,56.62 L272.97,56.81 L273.48,56.99 L273.98,57.17 L274.49,57.35 L275.01,57.53 L275.52,57.72 L276.03,57.90 L276.55,58.08 L277.06,58.26 L277.58,58.44 L278.10,58.62 L278.62,58.80 L279.14,58.99 L279.67,59.17 L280.19,59.35 L280.72,59.53 L281.25,59.71 L281.78,59.89 L282.31,60.07 L282.84,60.25 L283.37,60.43 L283.90,60.61 L284.44,60.79 L284.98,60.97 L285.51,61.15 L286.05,61.33 L286.59,61.51 L287.14,61.69 L287.68,61.87 L288.23,62.05 L288.77,62.23 L289.32,62.41 L289.87,62.59 L290.42,62.77 L290.97,62.95 L291.52,63.13 L292.08,63.30 L292.64,63.48 L293.19,63.66 L293.75,63.84 L294.31,64.02 L294.87,64.20 L295.44,64.38 L296.00,64.56 L296.57,64.73 L297.13,64.91 L297.70,65.09 L298.27,65.27 L298.84,65.45 L299.42,65.63 L299.99,65.81 L300.57,65.98 L301.14,66.16 L301.72,66.34 L302.30,66.52 L302.88,66.70 L303.46,66.87 L304.05,67.05 L304.63,67.23 L305.22,67.41 L305.81,67.59 L306.40,67.76 L306.99,67.94 L307.58,68.12 L308.17,68.30 L308.77,68.48 L309.37,68.66 L309.96,68.83 L310.56,69.01 L311.16,69.19 L311.77,69.37 L312.37,69.55 L312.98,69.72 L313.58,69.90 L314.19,70.08 L314.80,70.26 L315.41,70.44 L316.02,70.61 L316.64,70.79 L317.25,70.97 L317.87,71.15 L318.49,71.33 L319.11,71.51 L319.73,71.68 L320.35,71.86 L320.97,72.04 L321.60,72.22" fill="none" stroke="#000" stroke-width="1.65" stroke-linejoin="round"/>
</g>
<path d="M146.5,141.02h4 M316.5,141.02h-4 M146.5,131.70h8 M316.5,131.70h-8 M146.5,122.37h4 M316.5,122.37h-4 M146.5,113.05h4 M316.5,113.05h-4 M146.5,103.72h4 M316.5,103.72h-4 M146.5,94.40h8 M316.5,94.40h-8 M146.5,85.07h4 M316.5,85.07h-4 M146.5,75.75h4 M316.5,75.75h-4 M146.5,66.42h4 M316.5,66.42h-4 M146.5,57.10h8 M316.5,57.10h-8 M146.5,47.77h4 M316.5,47.77h-4 M146.5,38.45h4 M316.5,38.45h-4 M146.5,29.12h4 M316.5,29.12h-4 M146.5,19.80h8 M316.5,19.80h-8 M146.5,10.47h4 M316.5,10.47h-4 M156.80,150.0v-2.7 M156.80,1.5v3.2 M167.10,150.0v-2.7 M167.10,1.5v3.2 M177.40,150.0v-2.7 M177.40,1.5v3.2 M187.70,150.0v-2.7 M187.70,1.5v3.2 M198.00,150.0v-4.6 M198.00,1.5v5.1 M208.30,150.0v-2.7 M208.30,1.5v3.2 M218.60,150.0v-2.7 M218.60,1.5v3.2 M228.90,150.0v-2.7 M228.90,1.5v3.2 M239.20,150.0v-2.7 M239.20,1.5v3.2 M249.50,150.0v-4.6 M249.50,1.5v5.1 M259.80,150.0v-2.7 M259.80,1.5v3.2 M270.10,150.0v-2.7 M270.10,1.5v3.2 M280.40,150.0v-2.7 M280.40,1.5v3.2 M290.70,150.0v-2.7 M290.70,1.5v3.2 M301.00,150.0v-4.6 M301.00,1.5v5.1 M311.30,150.0v-2.7 M311.30,1.5v3.2" stroke="#1a1a1a" stroke-width="1" fill="none"/>
<path d="M146.5,1.5V150.6" stroke="#1a1a1a" stroke-width="1.25" fill="none"/>
<path d="M145.9,150.0H316.5" stroke="#1a1a1a" stroke-width="1.25" fill="none"/>
<path d="M40.1,208V226" stroke="#e00000" stroke-opacity="0.42" stroke-width="1.4" fill="none"/>
<path d="M146.7,116V121.8" stroke="#e00000" stroke-opacity="0.45" stroke-width="1.3" fill="none"/>
<text transform="translate(35.60,40.11) scale(0.885,1)" font-size="13.5" text-anchor="end">0.6</text>
<text transform="translate(35.60,109.39) scale(0.885,1)" font-size="13.5" text-anchor="end">0.4</text>
<text transform="translate(35.60,177.67) scale(0.885,1)" font-size="13.5" text-anchor="end">0.2</text>
<text transform="translate(35.60,247.95) scale(0.885,1)" font-size="13.5" text-anchor="end">0</text>
<text transform="translate(40.00,290.60) scale(0.885,1)" font-size="13.5" text-anchor="middle">0.0</text>
<text transform="translate(132.15,290.60) scale(0.885,1)" font-size="13.5" text-anchor="middle">0.5</text>
<text transform="translate(224.30,290.60) scale(0.885,1)" font-size="13.5" text-anchor="middle">1.0</text>
<text transform="translate(323.20,290.60) scale(0.885,1)" font-size="13.5" text-anchor="end">1.5</text>
<text transform="translate(143.20,24.30) scale(0.885,1)" font-size="13.5" text-anchor="end">0.6</text>
<text transform="translate(143.20,61.60) scale(0.885,1)" font-size="13.5" text-anchor="end">0.4</text>
<text transform="translate(143.20,98.90) scale(0.885,1)" font-size="13.5" text-anchor="end">0.2</text>
<text transform="translate(143.20,136.20) scale(0.885,1)" font-size="13.5" text-anchor="end">0</text>
<text transform="translate(146.60,162.90) scale(0.885,1)" font-size="13.5" text-anchor="middle">0.0</text>
<text transform="translate(198.10,162.90) scale(0.885,1)" font-size="13.5" text-anchor="middle">0.1</text>
<text transform="translate(249.60,162.90) scale(0.885,1)" font-size="13.5" text-anchor="middle">0.2</text>
<text transform="translate(301.10,162.90) scale(0.885,1)" font-size="13.5" text-anchor="middle">0.3</text>
<text transform="translate(161.00,304.50) scale(1.0,1)" font-size="15" text-anchor="start">r (fm)</text>
<text transform="translate(213.60,177.00) scale(1.0,1)" font-size="15" text-anchor="start">r (fm)</text>
<text transform="translate(177.30,208.30) scale(0.92,1)" font-size="13" text-anchor="start">S wave function</text>
<text transform="translate(68.80,215.30) scale(0.92,1)" font-size="13" text-anchor="start">D wave function</text>
<text transform="translate(165.00,26.10) scale(0.92,1)" font-size="13" text-anchor="start">S wave function</text>
<text transform="translate(200.30,103.00) scale(0.92,1)" font-size="13" text-anchor="start">D wave function</text>
<text transform="translate(14,177.5) rotate(-90)" font-size="12" font-style="normal" font-weight="normal">Ψ</text><text transform="translate(14,164.6) rotate(-90)" font-size="13.5" >(r)</text><text transform="translate(14,141.5) rotate(-90)" font-size="13.5" >(</text><text transform="translate(14,134.9) rotate(-90)" font-size="14" >fm</text><text transform="translate(6.5,119.5) rotate(-90)" font-size="8.5" >-3/2</text><text transform="translate(14,105.7) rotate(-90)" font-size="13.5" >)</text>
<text transform="translate(124,113.5) rotate(-90)" font-size="12" font-style="normal" font-weight="normal">Ψ</text><text transform="translate(124,100.6) rotate(-90)" font-size="13.5" >(r)</text><text transform="translate(124,77.5) rotate(-90)" font-size="13.5" >(</text><text transform="translate(124,70.9) rotate(-90)" font-size="14" >fm</text><text transform="translate(116.5,55.5) rotate(-90)" font-size="8.5" >-3/2</text><text transform="translate(124,41.7) rotate(-90)" font-size="13.5" >)</text>
</svg></body></html>
